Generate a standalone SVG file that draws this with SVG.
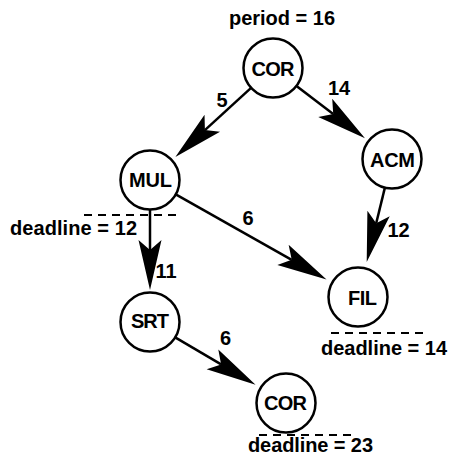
<svg xmlns="http://www.w3.org/2000/svg" width="449" height="457" viewBox="0 0 449 457">
<style>
.node circle{fill:#fff;stroke:#000;stroke-width:2.5}
text{font-family:"Liberation Sans",Arial,sans-serif;font-weight:bold;font-size:20px;fill:#000;text-anchor:middle}
.edge{stroke:#000;stroke-width:2.5;fill:none;marker-end:url(#ah)}
.dl{stroke:#000;stroke-width:2;stroke-dasharray:8 6;fill:none}
</style>
<defs>
<marker id="ah" markerUnits="userSpaceOnUse" orient="auto" refX="0" refY="0" markerWidth="60" markerHeight="30" overflow="visible">
<path d="M40,0 L-10,-11.5 L0,0 L-10,11.5 Z" fill="#000"/>
</marker>
</defs>
<g id="connectors">
<line class="edge" x1="250.8" y1="88.2" x2="204.9" y2="130.1"/>
<line class="edge" x1="296.8" y1="86.2" x2="333.2" y2="114"/>
<line class="edge" x1="150" y1="210" x2="150" y2="250"/>
<line class="edge" x1="384.9" y1="187.6" x2="376.2" y2="223.2"/>
<line class="edge" x1="176.2" y1="194.7" x2="291.7" y2="259.8"/>
<line class="edge" x1="175.6" y1="337.6" x2="221.1" y2="364.4"/>
<text x="222" y="107">5</text>
<text x="339" y="95">14</text>
<text x="248" y="225">6</text>
<text x="398.5" y="237">12</text>
<text x="166" y="278">11</text>
<text x="225.5" y="345">6</text>
</g>
<g id="cor-top" class="node">
<circle cx="273" cy="68" r="29.5"/>
<text x="273" y="76" textLength="43">COR</text>
<text x="282" y="25" textLength="106">period = 16</text>
</g>
<g id="acm" class="node">
<circle cx="392" cy="159" r="29.5"/>
<text x="392.5" y="167" textLength="45">ACM</text>
</g>
<g id="mul" class="node">
<circle cx="150" cy="180" r="29.5"/>
<text x="150.5" y="187" textLength="43">MUL</text>
<line class="dl" x1="84" y1="215" x2="180" y2="215"/>
<text x="73.5" y="235" textLength="127">deadline = 12</text>
</g>
<g id="srt" class="node">
<circle cx="150" cy="322" r="29.5"/>
<text x="150" y="328" textLength="38">SRT</text>
</g>
<g id="fil" class="node">
<circle cx="358" cy="297" r="29.5"/>
<text x="362.5" y="305" textLength="29">FIL</text>
<line class="dl" x1="331" y1="333" x2="427" y2="333"/>
<text x="384" y="355" textLength="126">deadline = 14</text>
</g>
<g id="cor-bottom" class="node">
<circle cx="286" cy="403" r="29.5"/>
<text x="285.5" y="410" textLength="43">COR</text>
<line class="dl" x1="259" y1="435" x2="353" y2="435"/>
<text x="310.5" y="452" textLength="125">deadline = 23</text>
</g>
</svg>
